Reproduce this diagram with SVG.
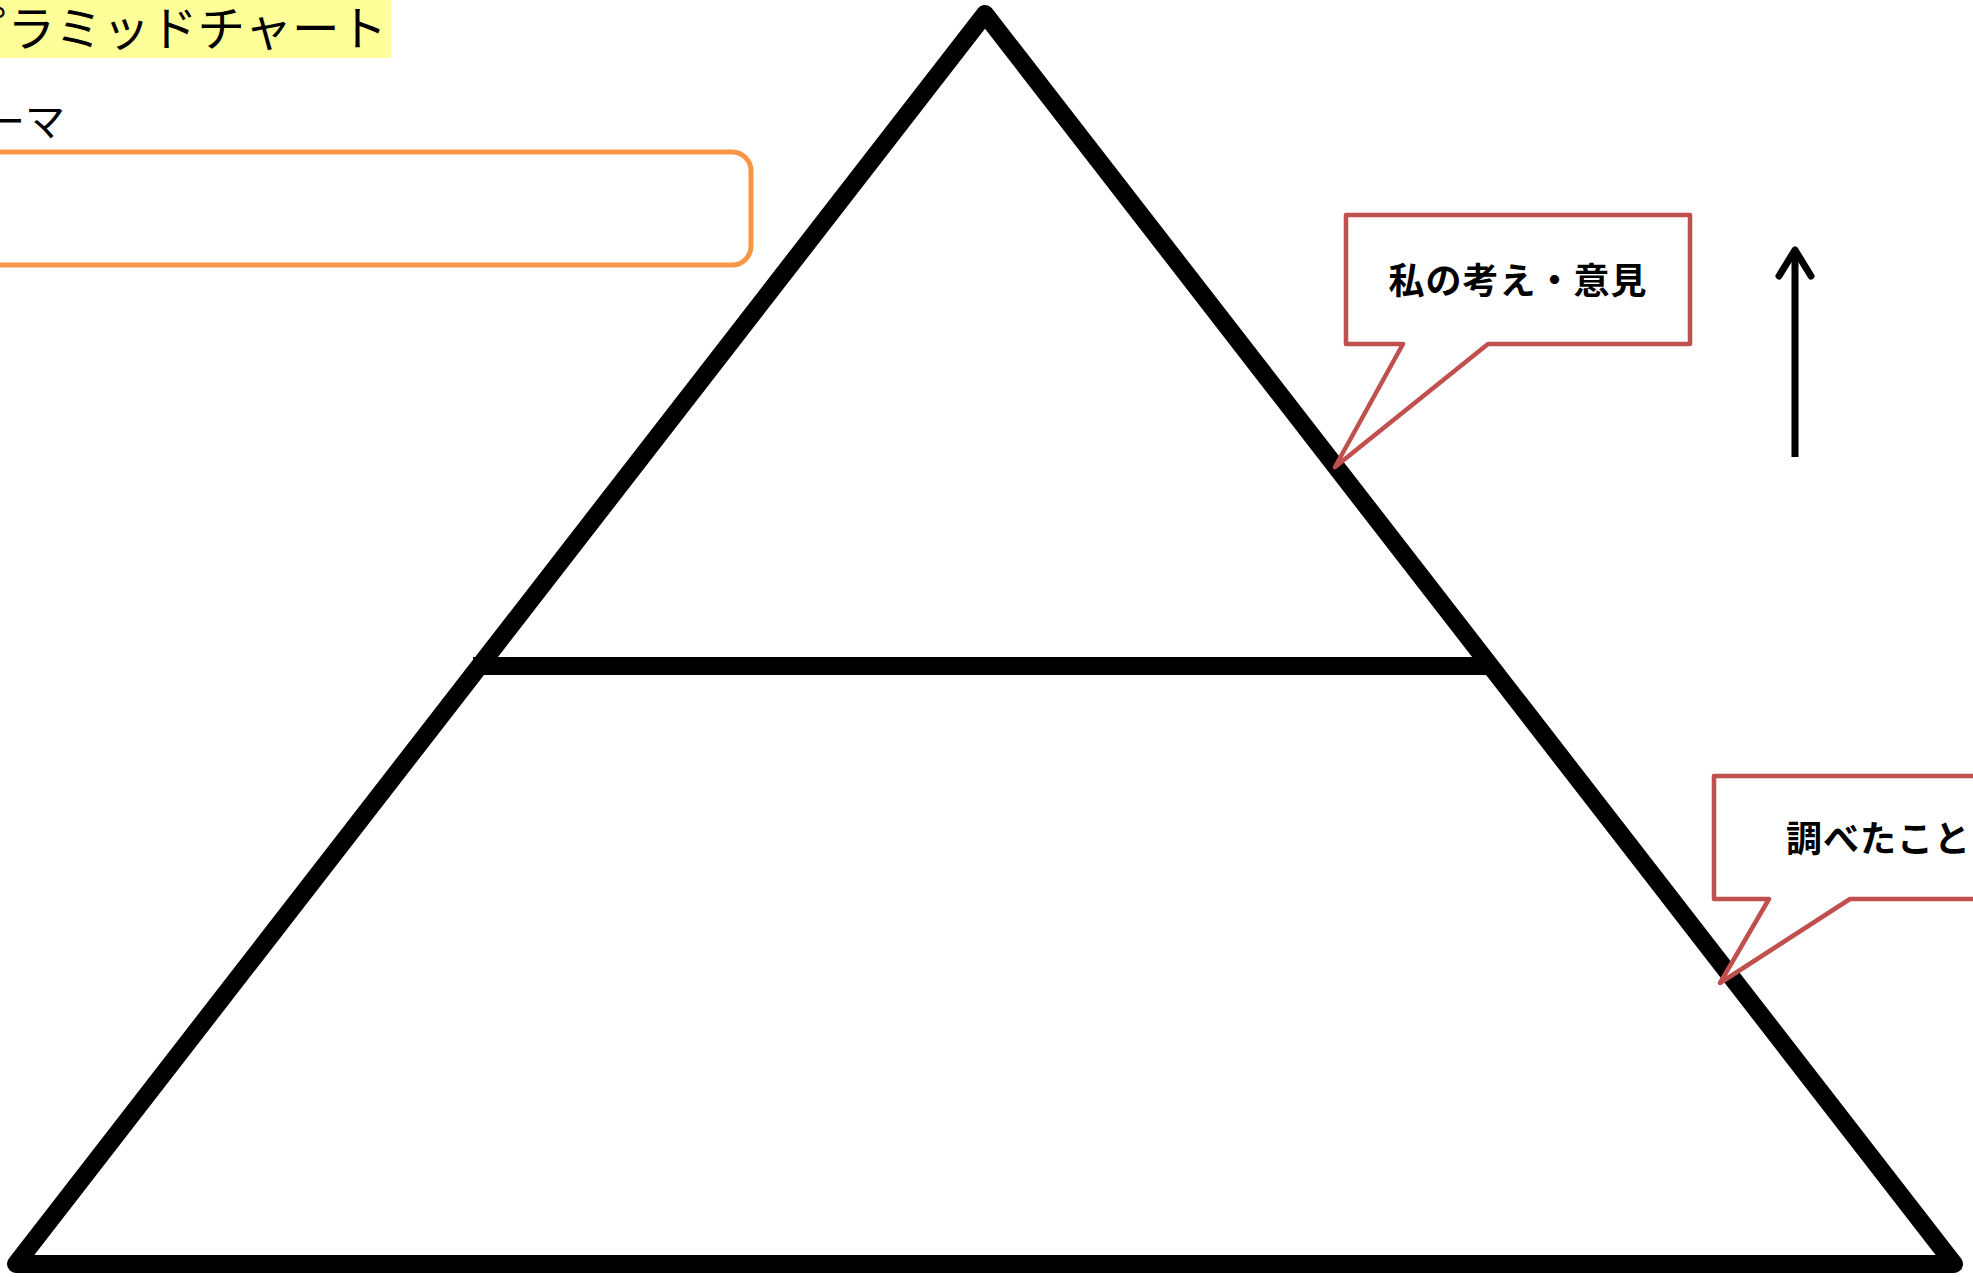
<svg xmlns="http://www.w3.org/2000/svg" width="1973" height="1277" viewBox="0 0 1973 1277">
  <style>
    .jp { font-family: "Noto Sans CJK JP", "Noto Sans", sans-serif; fill: #000; }
    .callout { fill: #fff; stroke: #C0504D; stroke-width: 4.5; stroke-linejoin: round; }
    .label { font-weight: bold; font-size: 36px; letter-spacing: 1px; dominant-baseline: central; }
    .pyr { fill: none; stroke: #000; stroke-width: 18; stroke-linejoin: round; }
  </style>
  <rect width="1973" height="1277" fill="#fff"/>
  <g id="title">
    <rect x="0" y="0" width="391" height="58" fill="#FFFF99"/>
    <text class="jp" x="-40" y="25.5" font-size="47.5" dominant-baseline="central">ピラミッドチャート</text>
  </g>
  <g id="theme">
    <text class="jp" x="-55" y="119" font-size="40" dominant-baseline="central">テーマ</text>
    <rect x="-300" y="152" width="1051" height="113" rx="19" ry="19" fill="none" stroke="#F79646" stroke-width="5"/>
  </g>
  <g id="pyramid">
    <polygon class="pyr" points="985,14 1954,1264 16,1264"/>
    <line x1="473" y1="666" x2="1488" y2="666" stroke="#000" stroke-width="18"/>
  </g>
  <g id="callout-opinion">
    <path class="callout" d="M1346,215 H1690 V344 H1488 L1335,467 L1403,344 H1346 Z"/>
    <text class="jp label" x="1518" y="278" text-anchor="middle">私の考え・意見</text>
  </g>
  <g id="callout-research">
    <path class="callout" d="M1714,776 H2100 V899 H1850 L1720,983 L1769,899 H1714 Z"/>
    <text class="jp label" x="1786" y="836">調べたこと</text>
  </g>
  <g id="connectors">
    <line x1="1795" y1="457" x2="1795" y2="254" stroke="#000" stroke-width="7"/>
    <polyline points="1779,276 1795,250 1811,276" fill="none" stroke="#000" stroke-width="7" stroke-linecap="round" stroke-linejoin="round"/>
  </g>
</svg>
